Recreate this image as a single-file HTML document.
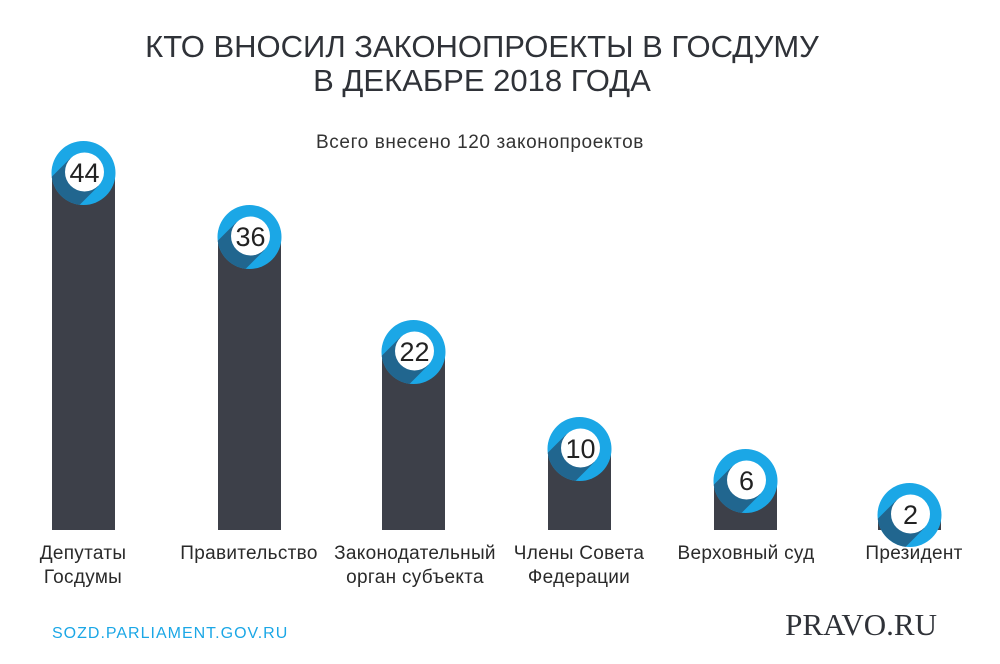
<!DOCTYPE html>
<html><head><meta charset="utf-8"><style>
html,body{margin:0;padding:0;background:#fff;}
svg{display:block;}
</style></head><body>
<svg width="1000" height="664" viewBox="0 0 1000 664" xmlns="http://www.w3.org/2000/svg" font-family="Liberation Sans, DejaVu Sans, sans-serif">
<defs>
<clipPath id="c1"><circle cx="0" cy="0" r="32"/></clipPath>
<g id="badge">
  <circle cx="0" cy="0" r="32" fill="#1ba7e6"/>
  <g clip-path="url(#c1)">
    <polygon points="15,13 -13,-15 -45,17 -17,45" fill="#21668f"/>
  </g>
  <circle cx="1" cy="-1" r="19.5" fill="#fff"/>
</g>
</defs>
<text x="482" y="57" text-anchor="middle" font-size="31" fill="#2f3238">КТО ВНОСИЛ ЗАКОНОПРОЕКТЫ В ГОСДУМУ</text>
<text x="482" y="91" text-anchor="middle" font-size="31" fill="#2f3238">В ДЕКАБРЕ 2018 ГОДА</text>
<text x="480" y="148" text-anchor="middle" font-size="19" fill="#333" letter-spacing="0.6">Всего внесено 120 законопроектов</text>
<g fill="#3d4049">
<rect x="52" y="173" width="63" height="357"/>
<rect x="218" y="237" width="63" height="293"/>
<rect x="382" y="352" width="63" height="178"/>
<rect x="548" y="449" width="63" height="81"/>
<rect x="714" y="481" width="63" height="49"/>
<rect x="878" y="515" width="63" height="15"/>
</g>
<g font-size="27" fill="#222" text-anchor="middle">
<use href="#badge" x="83.5" y="173"/><text x="84.5" y="182">44</text>
<use href="#badge" x="249.5" y="237"/><text x="250.5" y="246">36</text>
<use href="#badge" x="413.5" y="352"/><text x="414.5" y="361">22</text>
<use href="#badge" x="579.5" y="449"/><text x="580.5" y="458">10</text>
<use href="#badge" x="745.5" y="481"/><text x="746.5" y="490">6</text>
<use href="#badge" x="909.5" y="515"/><text x="910.5" y="524">2</text>
</g>
<g font-size="19" fill="#2a2a2a" text-anchor="middle" letter-spacing="0.3">
<text x="83" y="559">Депутаты</text><text x="83" y="583">Госдумы</text>
<text x="249" y="559">Правительство</text>
<text x="415" y="559">Законодательный</text><text x="415" y="583">орган субъекта</text>
<text x="579" y="559">Члены Совета</text><text x="579" y="583">Федерации</text>
<text x="746" y="559">Верховный суд</text>
<text x="914" y="559">Президент</text>
</g>
<text x="52" y="638" font-size="16" fill="#1ba7e6" letter-spacing="1">SOZD.PARLIAMENT.GOV.RU</text>
<text x="937" y="635" text-anchor="end" font-family="Liberation Serif, DejaVu Serif, serif" font-size="31" fill="#2f3238">PRAVO.RU</text>
</svg>
</body></html>
